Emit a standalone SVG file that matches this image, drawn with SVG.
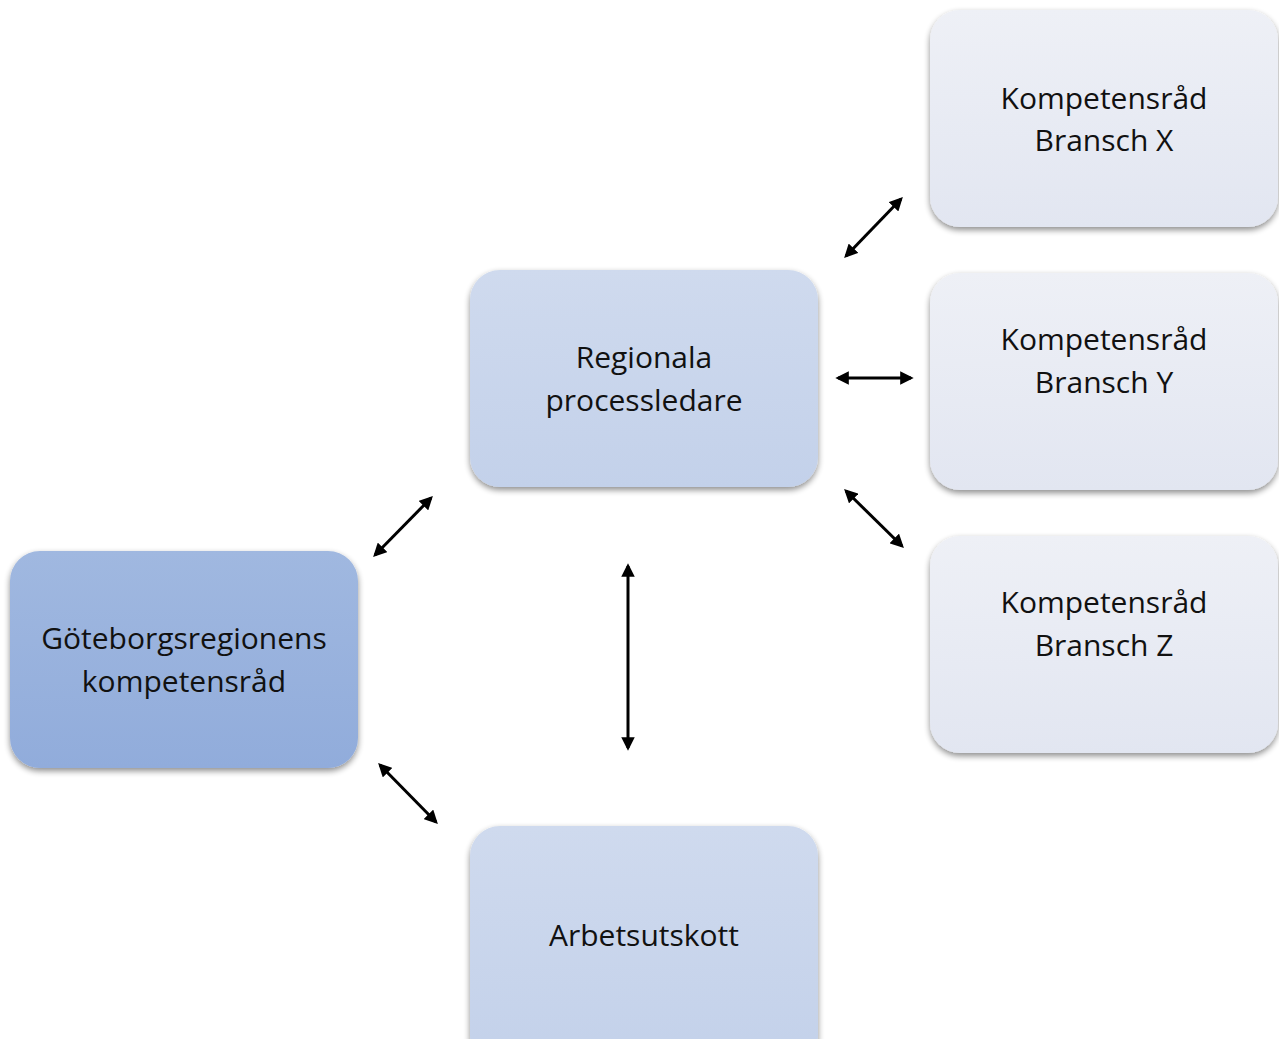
<svg xmlns="http://www.w3.org/2000/svg" width="1279" height="1039" viewBox="0 0 1279 1039">
<defs>
<style>
.lbl{font-family:"Open Sans","Noto Sans",sans-serif;font-size:30px;fill:#111;text-anchor:middle}
.con{stroke:#000;stroke-width:3;fill:none;marker-start:url(#ah);marker-end:url(#ah)}
</style>
<marker id="ah" viewBox="0 0 10 10" refX="8" refY="5" markerWidth="4.5" markerHeight="4.5" orient="auto-start-reverse" markerUnits="strokeWidth">
<path d="M0,0 L10,5 L0,10 z" fill="#000"/>
</marker>
<filter id="sh" x="-10%" y="-10%" width="120%" height="125%">
<feGaussianBlur in="SourceAlpha" stdDeviation="3"/>
<feOffset dx="0" dy="3" result="b"/>
<feComponentTransfer><feFuncA type="linear" slope="0.45"/></feComponentTransfer>
<feMerge><feMergeNode/><feMergeNode in="SourceGraphic"/></feMerge>
</filter>
<linearGradient id="gDark" x1="0" y1="0" x2="0" y2="1">
<stop offset="0" stop-color="#a0b8e0"/><stop offset="1" stop-color="#91acdb"/>
</linearGradient>
<linearGradient id="gMid" x1="0" y1="0" x2="0" y2="1">
<stop offset="0" stop-color="#cfdaee"/><stop offset="1" stop-color="#c3d1ea"/>
</linearGradient>
<linearGradient id="gLight" x1="0" y1="0" x2="0" y2="1">
<stop offset="0" stop-color="#eef0f6"/><stop offset="1" stop-color="#e2e6f1"/>
</linearGradient>
</defs>
<rect width="1279" height="1039" fill="#fff"/>
<g id="connectors">
<line class="con" x1="846" y1="256" x2="901" y2="199"/>
<line class="con" x1="838" y1="378" x2="911" y2="378"/>
<line class="con" x1="846" y1="491" x2="902" y2="546"/>
<line class="con" x1="375" y1="555" x2="431" y2="498"/>
<line class="con" x1="628" y1="566" x2="628" y2="748"/>
<line class="con" x1="380" y1="765" x2="436" y2="822"/>
</g>
<g id="goteborg">
<rect x="10" y="551" width="348" height="217" rx="30" fill="url(#gDark)" filter="url(#sh)"/>
<text class="lbl" x="184" y="649">Göteborgsregionens</text>
<text class="lbl" x="184" y="692">kompetensråd</text>
</g>
<g id="regionala">
<rect x="470" y="270" width="348" height="217" rx="30" fill="url(#gMid)" filter="url(#sh)"/>
<text class="lbl" x="644" y="368">Regionala</text>
<text class="lbl" x="644" y="411">processledare</text>
</g>
<g id="branschX">
<rect x="930" y="10" width="348" height="217" rx="30" fill="url(#gLight)" filter="url(#sh)"/>
<text class="lbl" x="1104" y="109">Kompetensråd</text>
<text class="lbl" x="1104" y="151">Bransch X</text>
</g>
<g id="branschY">
<rect x="930" y="273" width="348" height="217" rx="30" fill="url(#gLight)" filter="url(#sh)"/>
<text class="lbl" x="1104" y="350">Kompetensråd</text>
<text class="lbl" x="1104" y="393">Bransch Y</text>
</g>
<g id="branschZ">
<rect x="930" y="536" width="348" height="217" rx="30" fill="url(#gLight)" filter="url(#sh)"/>
<text class="lbl" x="1104" y="613">Kompetensråd</text>
<text class="lbl" x="1104" y="656">Bransch Z</text>
</g>
<g id="arbetsutskott">
<rect x="470" y="826" width="348" height="240" rx="30" fill="url(#gMid)" filter="url(#sh)"/>
<text class="lbl" x="644" y="946">Arbetsutskott</text>
</g>
</svg>
